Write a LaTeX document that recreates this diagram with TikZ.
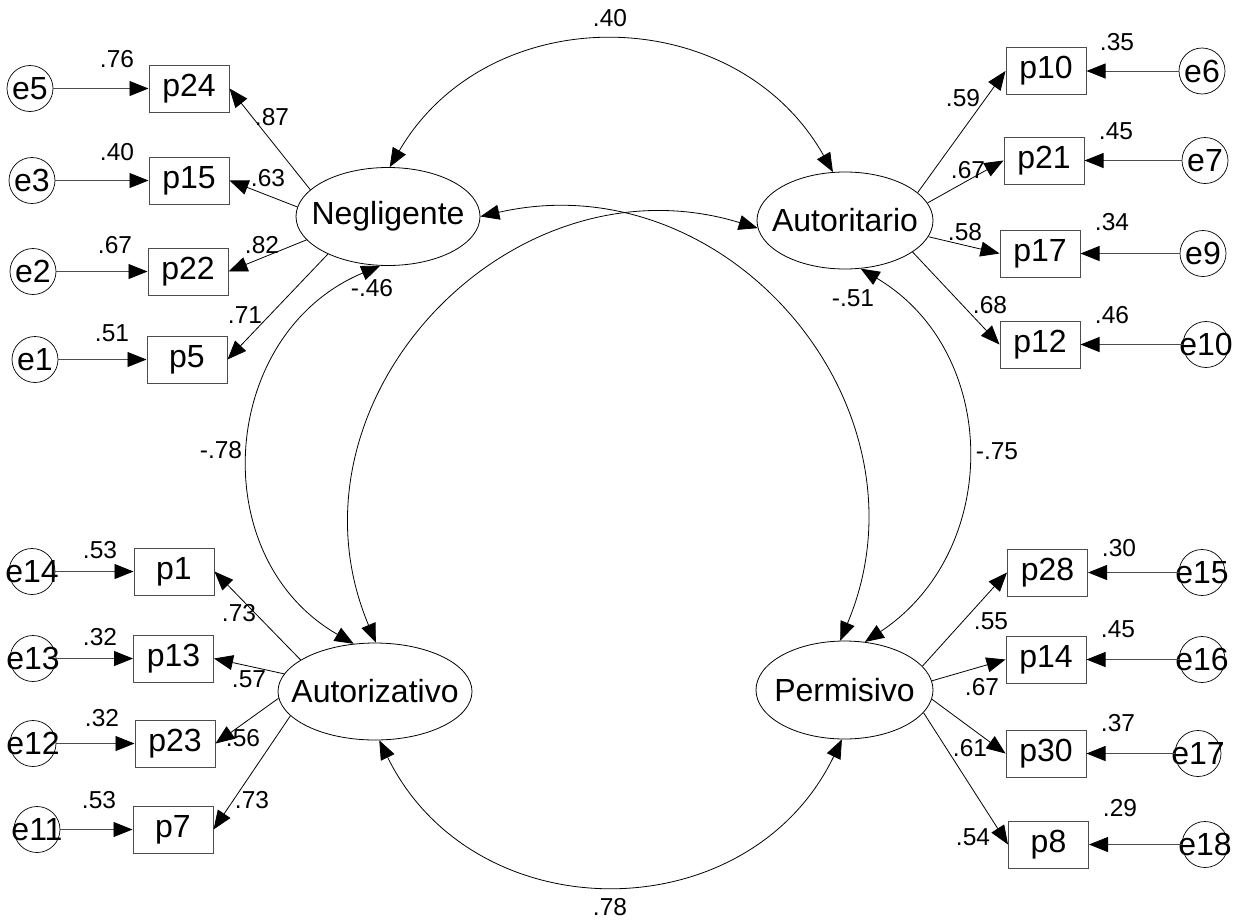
\documentclass[tikz,border=0pt]{standalone}
\usepackage{fontspec}
\setmainfont{Liberation Sans}
\usetikzlibrary{arrows.meta,shapes.geometric}
\newcommand{\mynodefont}{\fontsize{32}{36}\selectfont}
\newcommand{\mynumfont}{\fontsize{24.5}{28}\selectfont}
\begin{document}
\begin{tikzpicture}[x=1pt,y=-1pt,
  lat/.style={draw, ellipse, inner sep=0pt, line width=0.8pt},
  obs/.style={draw=black!70, rectangle, minimum width=80pt, minimum height=47pt, inner sep=0pt, line width=1pt, font=\mynodefont},
  err/.style={draw, circle, minimum size=46pt, inner sep=0pt, line width=0.7pt},
  num/.style={font=\mynumfont, inner sep=0pt},
  ld/.style={line width=0.8pt, -{Triangle[length=19pt,width=15pt]}},
  eld/.style={ld, draw=black!70, -{Triangle[length=19pt,width=15pt,fill=black,color=black]}},
  cov/.style={line width=0.8pt, {Triangle[length=19pt,width=15pt]}-{Triangle[length=19pt,width=15pt]}},
  lab/.style={font=\mynodefont, inner sep=0pt}
]
\useasboundingbox (0,0) rectangle (1241,921);

% latent variables
\node[lat, minimum width=184pt, minimum height=98pt, label={[lab]center:Negligente}] (N) at (388,216.5) {};
\node[lat, minimum width=176pt, minimum height=97pt, label={[lab]center:Autoritario}] (A) at (845,220.5) {};
\node[lat, minimum width=194pt, minimum height=97pt, label={[lab]center:Autorizativo}] (Z) at (375,691.5) {};
\node[lat, minimum width=177pt, minimum height=98pt, label={[lab]center:Permisivo}] (P) at (844.5,690) {};

% observed variables
\node[obs] (p24) at (189,88.5) {p24};
\node[obs] (p15) at (189,180.5) {p15};
\node[obs] (p22) at (188,271.5) {p22};
\node[obs] (p5) at (187,359.5) {p5};
\node[obs] (p10) at (1046,71) {p10};
\node[obs] (p21) at (1044,160.5) {p21};
\node[obs] (p17) at (1040,253.5) {p17};
\node[obs] (p12) at (1040,344.5) {p12};
\node[obs] (p1) at (174,571.5) {p1};
\node[obs] (p13) at (173.5,658.5) {p13};
\node[obs] (p23) at (175,743.5) {p23};
\node[obs] (p7) at (173,829.5) {p7};
\node[obs] (p28) at (1047.5,572.5) {p28};
\node[obs] (p14) at (1046,659.5) {p14};
\node[obs] (p30) at (1046,753.5) {p30};
\node[obs] (p8) at (1048.5,844.5) {p8};

% error terms
\node[err, label={[lab]center:e5}] (e5) at (30,88.5) {};
\node[err, label={[lab]center:e3}] (e3) at (32,180.5) {};
\node[err, label={[lab]center:e2}] (e2) at (33,271.5) {};
\node[err, label={[lab]center:e1}] (e1) at (35,359.5) {};
\node[err, label={[lab]center:e6}] (e6) at (1202,71) {};
\node[err, label={[lab]center:e7}] (e7) at (1205,160.5) {};
\node[err, label={[lab]center:e9}] (e9) at (1203,253.5) {};
\node[err, label={[lab]center:e10}] (e10) at (1206,344.5) {};
\node[err, label={[lab]center:e14}] (e14) at (32,571.5) {};
\node[err, label={[lab]center:e13}] (e13) at (33,658.5) {};
\node[err, label={[lab]center:e12}] (e12) at (33,743.5) {};
\node[err, label={[lab]center:e11}] (e11) at (37,829.5) {};
\node[err, label={[lab]center:e15}] (e15) at (1202,572.5) {};
\node[err, label={[lab]center:e16}] (e16) at (1202,659.5) {};
\node[err, label={[lab]center:e17}] (e17) at (1198,753.5) {};
\node[err, label={[lab]center:e18}] (e18) at (1205,844.5) {};

% error arrows
\draw[eld] (e5.east) -- (p24.west);
\draw[eld] (e3.east) -- (p15.west);
\draw[eld] (e2.east) -- (p22.west);
\draw[eld] (e1.east) -- (p5.west);
\draw[eld] (e14.east) -- (p1.west);
\draw[eld] (e13.east) -- (p13.west);
\draw[eld] (e12.east) -- (p23.west);
\draw[eld] (e11.east) -- (p7.west);
\draw[eld] (e6.west) -- (p10.east);
\draw[eld] (e7.west) -- (p21.east);
\draw[eld] (e9.west) -- (p17.east);
\draw[eld] (e10.west) -- (p12.east);
\draw[eld] (e15.west) -- (p28.east);
\draw[eld] (e16.west) -- (p14.east);
\draw[eld] (e17.west) -- (p30.east);
\draw[eld] (e18.west) -- (p8.east);

% loadings
\draw[ld] (N.161) -- (p24.east);
\draw[ld] (N.174) -- (p15.east);
\draw[ld] (N.196) -- (p22.east);
\draw[ld] (N.212) -- (p5.east);
\draw[ld] (A.21) -- (p10.west);
\draw[ld] (A.12) -- (p21.west);
\draw[ld] (A.349) -- (p17.west);
\draw[ld] (A.335) -- (p12.west);
\draw[ld] (Z.157) -- (p1.east);
\draw[ld] (Z.169) -- (p13.east);
\draw[ld] (Z.184) -- (p23.east);
\draw[ld] (Z.196) -- (p7.east);
\draw[ld] (P.17) -- (p28.west);
\draw[ld] (P.6) -- (p14.west);
\draw[ld] (P.354) -- (p30.west);
\draw[ld] (P.344) -- (p8.west);

% covariances
\draw[cov] (N.88) .. controls (489,-3) and (736,0) .. (A.104);
\draw[cov] (N.0) .. controls (728,160) and (938,408) .. (P.95);
\draw[cov] (A.185) .. controls (509,152) and (275,402) .. (Z.89);
\draw[cov] (N.261) .. controls (219,333) and (203,557) .. (Z.114);
\draw[cov] (A.288) .. controls (1001,352) and (1002,551) .. (P.67);
\draw[cov] (Z.275) .. controls (474.5,933.6) and (749,932) .. (P.267);

% numbers
\node[num] at (117,59) {.76};
\node[num] at (117,152) {.40};
\node[num] at (115,245) {.67};
\node[num] at (112,333) {.51};
\node[num] at (272,117) {.87};
\node[num] at (268,178) {.63};
\node[num] at (262,245) {.82};
\node[num] at (245,315) {.71};
\node[num] at (372,288) {-.46};
\node[num] at (1117,42) {.35};
\node[num] at (1116,131) {.45};
\node[num] at (1112,222) {.34};
\node[num] at (1112,315) {.46};
\node[num] at (963,98) {.59};
\node[num] at (968,170) {.67};
\node[num] at (965,232) {.58};
\node[num] at (990,305) {.68};
\node[num] at (853,298) {-.51};
\node[num] at (100,550) {.53};
\node[num] at (100,637) {.32};
\node[num] at (102,718) {.32};
\node[num] at (99,800) {.53};
\node[num] at (239,613) {.73};
\node[num] at (249,679) {.57};
\node[num] at (243,738) {.56};
\node[num] at (252,800) {.73};
\node[num] at (1119,548) {.30};
\node[num] at (1118,629) {.45};
\node[num] at (1118,723) {.37};
\node[num] at (1120,808) {.29};
\node[num] at (991,621) {.55};
\node[num] at (982,687) {.67};
\node[num] at (970,748) {.61};
\node[num] at (973,837) {.54};
\node[num] at (610,18) {.40};
\node[num] at (221,450) {-.78};
\node[num] at (997,451) {-.75};
\node[num] at (610,907) {.78};
\end{tikzpicture}
\end{document}
